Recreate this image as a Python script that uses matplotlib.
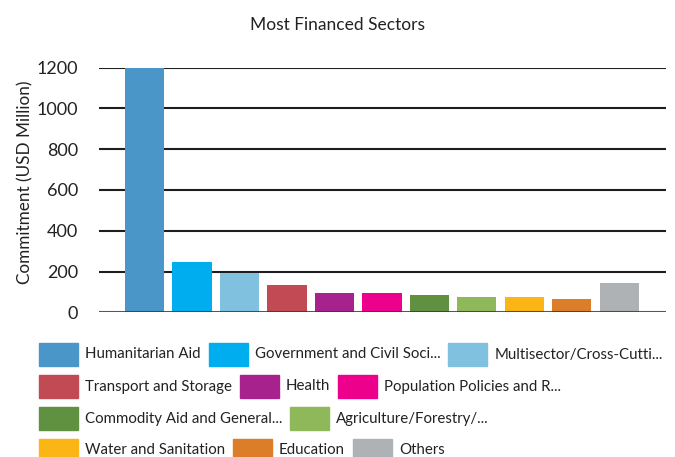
import matplotlib
matplotlib.use("Agg")
import matplotlib.pyplot as plt
from matplotlib.patches import Rectangle

plt.rcParams['font.family'] = ['Lato', 'DejaVu Sans']

sectors = ["Humanitarian Aid", "Government and Civil Soci...", "Multisector/Cross-Cutti...",
           "Transport and Storage", "Health", "Population Policies and R...",
           "Commodity Aid and General...", "Agriculture/Forestry/...",
           "Water and Sanitation", "Education", "Others"]
values = [1198, 247, 195, 134, 95, 95, 85, 75, 75, 65, 144]
colors = ["#4A96C9", "#00AEEF", "#80C1E0", "#C14A54", "#A8228D", "#EC008C",
          "#5F9141", "#8FB85A", "#FBB616", "#DB7D29", "#AFB2B5"]
yticks = [0, 200, 400, 600, 800, 1000, 1200]

W, H = 675, 457
fig = plt.figure(figsize=(W / 100, H / 100), dpi=100)
ax = fig.add_axes([98.7 / W, 1 - 312.3 / H, (665.7 - 98.7) / W, (312.3 - 67.7) / H])

x = list(range(len(values)))
ax.bar(x, values, width=0.826, color=colors, zorder=2)
ax.set_xlim(-0.965, 10.977)
ax.set_ylim(0, 1200)
ax.set_yticks(yticks)
ax.set_yticklabels([str(t) for t in yticks], fontsize=13, color="#222222")
ax.set_xticks([])
ax.tick_params(axis='y', length=0, pad=15)
for s in ax.spines.values():
    s.set_visible(False)
for t in yticks[1:]:
    ax.axhline(t, color="#1e1e1e", lw=1.5, zorder=1)
ax.axhline(0, color="#3a3a3a", lw=2.2, alpha=0.85, zorder=3)
ax.set_ylabel("Commitment (USD Million)", fontsize=12.3, color="#222222")
ax.yaxis.set_label_coords((25 - 98.7) / (665.7 - 98.7), 0.53)
ax.yaxis.label.set_verticalalignment('center')

fig.text(0.5, 1 - 24.5 / H, "Most Financed Sectors", ha='center', va='center',
         fontsize=12.5, color="#222222")

# Flow legend (row breaks as in the reference layout)
fig.canvas.draw()
renderer = fig.canvas.get_renderer()
pw, ph = 39, 23
gap_text = 7
gap_item = 8
x0 = 39
row_y = [354.5, 386.5, 418.5, 450]
row_breaks = {3, 6, 8}
cur_x = x0
row = 0
for i, (name, c) in enumerate(zip(sectors, colors)):
    t = fig.text(0, 0, name, fontsize=10.8, color="#222222", va='center', ha='left')
    tw = t.get_window_extent(renderer).width
    item_w = pw + gap_text + tw
    if i in row_breaks:
        row += 1
        cur_x = x0
    yc = row_y[row]
    fig.patches.append(Rectangle((cur_x / W, 1 - (yc + ph / 2) / H), pw / W, ph / H,
                                 transform=fig.transFigure, color=c, figure=fig))
    t.set_position(((cur_x + pw + gap_text) / W, 1 - yc / H))
    cur_x += item_w + gap_item

fig.savefig("out.png", dpi=100)
